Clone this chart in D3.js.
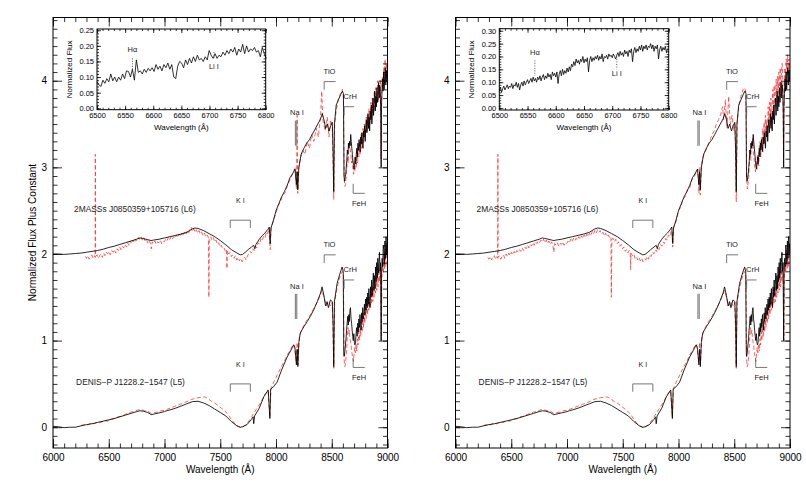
<!DOCTYPE html>
<html>
<head>
<meta charset="utf-8">
<script src="https://cdn.jsdelivr.net/npm/d3@7"></script>
<style>
  body { margin: 0; background: #fff; }
  svg { display: block; }
  text { font-family: "Liberation Sans", Arial, sans-serif; }
</style>
</head>
<body>
<svg id="chart" width="806" height="483"></svg>
<script>
// spectra, [wavelength (A), normalized flux]; plotted with an offset per star

var l6Black = [[6000,0.00],[6050,0.00],[6100,-0.005],[6150,0.0],[6200,0.005],[6250,0.01],[6300,0.02],[6350,0.03],[6400,0.04],
  [6450,0.055],[6500,0.075],[6550,0.09],[6600,0.11],[6650,0.13],[6700,0.15],[6750,0.17],[6780,0.185],[6800,0.18],[6850,0.165],
  [6880,0.155],[6900,0.16],[6950,0.17],[7000,0.185],[7050,0.2],[7100,0.215],[7150,0.23],[7200,0.25],[7250,0.29],[7275,0.30],
  [7300,0.295],[7350,0.27],[7400,0.235],[7450,0.2],[7500,0.155],[7550,0.105],[7600,0.05],[7650,0.01],[7680,-0.01],[7700,-0.005],
  [7725,0.02],[7750,0.05],[7780,0.08],[7800,0.1],[7810,0.06],[7820,0.11],[7850,0.17],[7875,0.21],[7900,0.24],[7925,0.28],
  [7940,0.31],[7948,0.12],[7955,0.30],[7975,0.38],[8000,0.5],[8025,0.58],[8050,0.66],[8075,0.72],[8100,0.79],[8125,0.88],
  [8150,0.93],[8170,0.98],[8183,0.80],[8190,0.95],[8195,0.74],[8205,1.0],[8225,1.15],[8250,1.22],[8275,1.28],[8300,1.32],
  [8325,1.38],[8350,1.44],[8375,1.50],[8400,1.56],[8415,1.62],[8430,1.55],[8445,1.45],[8460,1.50],[8475,1.42],[8490,1.48],
  [8505,1.52],[8512,1.2],[8518,0.72],[8524,1.5],[8540,1.72],[8560,1.78],[8580,1.84],[8595,1.88],[8605,1.85],[8610,0.9],
  [8615,0.84],[8620,0.88],[8625,0.92],[8630,1.0],[8635,1.08],[8640,1.2],[8645,1.15],[8650,1.28],[8655,1.22],[8660,1.3],
  [8665,1.25],[8670,1.38],[8675,1.3],[8680,1.22],[8685,1.15],[8690,1.08],[8695,1.02],[8700,0.98],[8705,1.05],[8710,1.12],
  [8715,1.04],[8720,1.15],[8725,1.22],[8730,1.12],[8735,1.28],[8740,1.2],[8745,1.32],[8750,1.24],[8755,1.18],[8760,1.35],
  [8765,1.27],[8770,1.4],[8775,1.3],[8780,1.22],[8785,1.42],[8790,1.35],[8795,1.48],[8800,1.3],[8805,1.45],[8810,1.55],
  [8815,1.4],[8820,1.5],[8825,1.62],[8830,1.45],[8835,1.58],[8840,1.42],[8845,1.65],[8850,1.55],[8855,1.72],[8860,1.5],
  [8865,1.68],[8870,1.8],[8875,1.6],[8880,1.75],[8885,1.88],[8890,1.65],[8895,1.82],[8900,1.7],[8905,1.92],[8910,1.75],
  [8915,1.85],[8920,1.98],[8925,1.8],[8930,1.95],[8935,1.88],[8940,1.6],[8943,1.0],[8946,1.7],[8950,1.85],[8955,2.02],
  [8960,1.88],[8965,2.1],[8970,1.9],[8975,2.05],[8980,2.15],[8985,1.95],[8990,2.12],[8995,2.0],[9000,2.15]];

var l5Black = [[6000,0.01],[6050,0.005],[6100,-0.005],[6150,0.0],[6200,0.0],[6250,0.015],[6300,0.03],[6350,0.04],[6400,0.055],
  [6450,0.07],[6500,0.085],[6550,0.1],[6600,0.12],[6650,0.14],[6700,0.16],[6750,0.18],[6780,0.19],[6810,0.185],[6850,0.17],
  [6880,0.145],[6900,0.15],[6950,0.165],[7000,0.18],[7020,0.19],[7050,0.2],[7100,0.22],[7150,0.245],[7200,0.27],[7250,0.295],
  [7300,0.30],[7350,0.28],[7400,0.25],[7450,0.21],[7500,0.17],[7550,0.13],[7600,0.065],[7650,0.015],[7680,0.0],[7700,0.005],
  [7740,0.03],[7780,0.09],[7795,0.12],[7800,0.04],[7808,0.13],[7850,0.22],[7890,0.35],[7930,0.43],[7945,0.10],[7952,0.44],
  [7980,0.47],[8010,0.52],[8050,0.66],[8100,0.81],[8130,0.88],[8158,0.95],[8170,0.92],[8183,0.72],[8190,0.90],[8196,0.70],
  [8205,0.98],[8218,1.09],[8250,1.16],[8280,1.22],[8308,1.28],[8340,1.36],[8370,1.45],[8400,1.55],[8413,1.62],[8430,1.52],
  [8445,1.4],[8458,1.45],[8470,1.38],[8488,1.47],[8505,1.45],[8512,1.2],[8518,0.70],[8524,1.45],[8548,1.66],[8570,1.76],
  [8593,1.85],[8603,1.8],[8608,0.85],[8612,0.82],[8618,0.88],[8623,0.95],[8628,1.02],[8633,1.12],[8638,1.2],[8643,1.28],
  [8648,1.18],[8653,1.3],[8658,1.22],[8663,1.35],[8668,1.38],[8673,1.25],[8678,1.2],[8683,1.12],[8688,1.05],[8693,1.0],
  [8698,1.08],[8703,0.98],[8708,0.95],[8713,0.97],[8718,1.08],[8723,1.15],[8728,1.05],[8733,1.2],[8738,1.1],[8743,1.25],
  [8748,1.15],[8753,1.3],[8758,1.2],[8763,1.12],[8768,1.32],[8773,1.22],[8778,1.38],[8783,1.25],[8788,1.3],[8793,1.42],
  [8798,1.3],[8803,1.48],[8808,1.35],[8813,1.5],[8818,1.38],[8823,1.55],[8828,1.42],[8833,1.6],[8838,1.45],[8843,1.38],
  [8848,1.62],[8853,1.5],[8858,1.7],[8863,1.52],[8868,1.65],[8873,1.78],[8878,1.58],[8883,1.75],[8888,1.6],[8893,1.85],
  [8898,1.68],[8903,1.9],[8908,1.72],[8913,1.95],[8918,1.78],[8923,1.9],[8928,2.02],[8933,1.8],[8938,1.9],[8943,1.0],
  [8947,1.78],[8952,1.95],[8957,1.85],[8962,2.1],[8967,2.05],[8972,1.88],[8977,2.15],[8982,1.95],[8987,2.2],[8992,2.0],
  [8997,2.12],[9000,2.05]];

var l6RedLeft = [[6290,-0.03],[6300,-0.05],[6312,-0.02],[6324,-0.06],[6336,-0.03],[6348,-0.01],[6360,-0.05],[6372,-0.02],
  [6378,-0.04],[6380,1.15],[6382,-0.03],[6394,-0.01],[6406,-0.05],[6418,-0.02],[6430,0.0],[6442,-0.04],[6454,0.01],
  [6466,-0.02],[6478,0.02],[6490,0.0],[6502,0.03],[6514,-0.01],[6526,0.04],[6538,0.02],[6550,0.05],[6562,0.01],[6574,0.06],
  [6586,0.04],[6598,0.08],[6610,0.05],[6622,0.09],[6634,0.07],[6646,0.11],[6658,0.08],[6670,0.13],[6682,0.1],[6694,0.15],
  [6706,0.12],[6718,0.16],[6730,0.13],[6742,0.17],[6754,0.15],[6766,0.19],[6778,0.17],[6790,0.2],[6802,0.16],[6814,0.19],
  [6826,0.15],[6838,0.17],[6850,0.13],[6862,0.16],[6874,0.12],[6882,0.06],[6890,0.14],[6902,0.12],[6914,0.15],[6926,0.11],
  [6938,0.14],[6950,0.13],[6962,0.16],[6974,0.12],[6986,0.15],[6998,0.14],[7010,0.17],[7022,0.15],[7034,0.19],[7046,0.16],
  [7058,0.2],[7070,0.17],[7082,0.2],[7094,0.18],[7106,0.22],[7118,0.19],[7130,0.23],[7142,0.2],[7154,0.24],[7166,0.21],
  [7178,0.25],[7190,0.22],[7202,0.26],[7214,0.23],[7226,0.28],[7238,0.31],[7250,0.26],[7262,0.29],[7274,0.25],[7286,0.28],
  [7298,0.24],[7310,0.27],[7322,0.23],[7334,0.25],[7346,0.21],[7358,0.24],[7370,0.2],[7382,0.22],[7394,0.19],[7398,-0.5],
  [7402,0.18],[7414,0.2],[7426,0.16],[7438,0.19],[7450,0.14],[7462,0.16],[7474,0.11],[7486,0.13],[7498,0.08],[7510,0.1],
  [7522,0.06],[7534,0.07],[7546,0.03],[7556,0.05],[7560,-0.17],[7564,0.04],[7576,0.0],[7588,0.02],[7600,-0.03],[7612,-0.01],
  [7624,-0.05],[7636,-0.02],[7648,-0.07],[7660,-0.04],[7672,-0.08],[7684,-0.05],[7696,-0.09],[7708,-0.06],[7720,-0.04],
  [7732,-0.07],[7744,-0.02],[7756,0.0],[7768,0.03],[7780,0.01],[7792,0.06],[7804,0.04],[7816,0.09],[7828,0.07],[7840,0.13],
  [7852,0.11],[7864,0.17],[7876,0.15],[7888,0.2],[7900,0.18],[7912,0.25],[7924,0.23],[7936,0.29],[7948,0.05],[7956,0.3],
  [7980,0.4],[8000,0.47],[8020,0.56],[8040,0.6],[8060,0.68],[8080,0.7],[8100,0.78],[8120,0.84],[8140,0.9],[8160,0.95],
  [8175,1.0],[8183,0.75],[8190,1.6],[8195,0.7],[8205,1.0],[8220,1.1],[8240,1.2],[8260,1.15],[8280,1.3],[8300,1.22],
  [8320,1.38],[8340,1.3],[8360,1.45],[8380,1.35],[8400,1.6],[8410,1.88],[8420,1.55],[8440,1.42],[8460,1.58],[8475,1.35],
  [8490,1.55],[8505,1.45],[8518,0.63],[8526,1.5],[8540,1.65],[8560,1.8],[8580,1.85],[8595,1.9],[8605,1.8],[8612,0.85],
  [8618,0.78],[8624,0.8],[8630,0.9],[8636,1.0],[8642,1.12],[8648,1.05],[8654,1.25],[8660,1.3],[8666,1.2],[8672,1.15],
  [8678,1.05],[8684,1.1],[8690,0.98],[8696,0.92],[8702,1.02],[8708,0.95],[8714,1.1],[8720,1.0],[8726,1.18],[8732,1.05],
  [8738,1.25],[8744,1.12],[8750,1.3],[8756,1.15],[8762,1.38],[8768,1.22],[8774,1.3],[8780,1.45],[8786,1.28],[8792,1.5],
  [8798,1.35],[8804,1.42],[8810,1.58],[8816,1.4],[8822,1.6],[8828,1.45],[8834,1.68],[8840,1.5],[8846,1.62],[8852,1.75],
  [8858,1.55],[8864,1.8],[8870,1.6],[8876,1.72],[8882,1.88],[8888,1.65],[8894,1.92],[8900,1.7],[8906,1.85],[8912,2.0],
  [8918,1.75],[8924,1.95],[8930,1.82],[8936,2.02],[8942,1.1],[8948,1.85],[8954,2.05],[8960,1.9],[8966,2.15],[8972,1.95],
  [8978,2.25],[8984,2.0],[8990,2.2],[8996,2.05],[9000,2.15]];

var l6RedRight = [[6290,-0.04],[6300,-0.06],[6312,-0.03],[6324,-0.07],[6336,-0.04],[6348,-0.02],[6360,-0.06],[6372,-0.03],
  [6378,-0.05],[6380,1.15],[6382,-0.04],[6394,-0.02],[6406,-0.06],[6418,-0.03],[6430,-0.01],[6442,-0.05],[6454,0.0],
  [6466,-0.03],[6478,0.01],[6490,-0.02],[6502,0.02],[6514,-0.01],[6526,0.03],[6538,0.0],[6550,0.04],[6562,0.02],[6574,0.05],
  [6586,0.03],[6598,0.07],[6610,0.04],[6622,0.08],[6634,0.06],[6646,0.1],[6658,0.07],[6670,0.11],[6682,0.09],[6694,0.13],
  [6706,0.1],[6718,0.14],[6730,0.12],[6742,0.15],[6754,0.13],[6766,0.16],[6778,0.14],[6790,0.17],[6802,0.13],[6814,0.16],
  [6826,0.12],[6838,0.15],[6850,0.11],[6862,0.14],[6874,0.1],[6882,0.02],[6890,0.12],[6902,0.1],[6914,0.13],[6926,0.09],
  [6938,0.12],[6950,0.11],[6962,0.14],[6974,0.1],[6986,0.13],[6998,0.12],[7010,0.15],[7022,0.13],[7034,0.17],[7046,0.14],
  [7058,0.18],[7070,0.15],[7082,0.18],[7094,0.16],[7106,0.2],[7118,0.17],[7130,0.21],[7142,0.18],[7154,0.22],[7166,0.19],
  [7178,0.23],[7190,0.2],[7202,0.24],[7214,0.21],[7226,0.26],[7238,0.23],[7250,0.27],[7262,0.24],[7274,0.28],[7286,0.25],
  [7298,0.27],[7310,0.23],[7322,0.25],[7334,0.21],[7346,0.24],[7358,0.2],[7370,0.22],[7382,0.19],[7394,0.2],[7398,-0.5],
  [7402,0.17],[7414,0.18],[7426,0.14],[7438,0.17],[7450,0.12],[7462,0.14],[7474,0.09],[7486,0.11],[7498,0.06],[7510,0.08],
  [7522,0.03],[7534,0.05],[7546,0.01],[7558,0.04],[7568,0.02],[7570,-0.18],[7574,0.01],[7586,-0.02],[7598,0.0],[7610,-0.05],
  [7622,-0.03],[7634,-0.07],[7646,-0.04],[7658,-0.08],[7670,-0.05],[7682,-0.09],[7694,-0.06],[7706,-0.07],[7718,-0.03],
  [7730,-0.06],[7742,-0.01],[7754,-0.03],[7766,0.02],[7778,0.0],[7790,0.05],[7802,0.03],[7814,0.07],[7826,0.05],[7838,0.11],
  [7850,0.09],[7862,0.14],[7874,0.12],[7886,0.18],[7898,0.16],[7910,0.22],[7922,0.2],[7934,0.26],[7942,0.27],[7948,0.08],
  [7956,0.3],[7980,0.38],[8000,0.5],[8020,0.54],[8040,0.63],[8060,0.66],[8080,0.74],[8100,0.76],[8120,0.86],[8140,0.88],
  [8160,0.96],[8175,0.98],[8183,0.7],[8190,1.0],[8195,0.68],[8205,1.02],[8220,1.12],[8240,1.18],[8260,1.25],[8280,1.3],
  [8300,1.38],[8320,1.42],[8340,1.5],[8360,1.55],[8380,1.62],[8395,1.7],[8405,1.55],[8420,1.78],[8435,1.45],[8450,1.82],
  [8465,1.5],[8480,1.6],[8495,1.42],[8508,1.5],[8518,0.6],[8526,1.5],[8540,1.7],[8560,1.82],[8580,1.9],[8595,1.92],
  [8605,1.85],[8612,0.85],[8618,0.75],[8624,0.82],[8630,0.88],[8636,1.05],[8642,1.2],[8648,1.08],[8654,1.3],[8660,1.22],
  [8666,1.35],[8672,1.15],[8678,1.1],[8684,1.0],[8690,0.95],[8696,1.05],[8702,0.98],[8708,1.15],[8714,1.05],[8720,1.02],
  [8726,1.25],[8732,1.3],[8738,1.12],[8744,1.35],[8750,1.2],[8756,1.45],[8762,1.3],[8768,1.52],[8774,1.28],[8780,1.6],
  [8786,1.4],[8792,1.55],[8798,1.35],[8804,1.7],[8810,1.5],[8816,1.75],[8822,1.48],[8828,1.8],[8834,1.55],[8840,1.72],
  [8846,1.9],[8852,1.6],[8858,1.95],[8864,1.7],[8870,1.85],[8876,2.02],[8882,1.75],[8888,2.05],[8894,1.8],[8900,2.1],
  [8906,1.85],[8912,2.15],[8918,1.9],[8924,2.12],[8930,2.2],[8936,1.95],[8942,1.1],[8948,1.9],[8954,2.15],[8960,2.0],
  [8966,2.25],[8972,2.05],[8978,2.3],[8984,2.08],[8990,2.25],[8996,2.1],[9000,2.2]];

var l5Red = [[6250,0.02],[6280,0.03],[6310,0.025],[6340,0.045],[6370,0.04],[6400,0.06],[6430,0.055],[6460,0.075],[6490,0.07],
  [6520,0.095],[6550,0.1],[6580,0.12],[6610,0.125],[6640,0.145],[6670,0.16],[6700,0.175],[6730,0.18],[6760,0.2],[6790,0.205],
  [6820,0.19],[6850,0.185],[6880,0.16],[6910,0.17],[6940,0.175],[6970,0.19],[7000,0.195],[7030,0.21],[7060,0.225],[7090,0.24],
  [7120,0.255],[7150,0.27],[7180,0.285],[7210,0.3],[7240,0.32],[7270,0.33],[7300,0.34],[7330,0.345],[7360,0.35],[7390,0.33],
  [7420,0.3],[7450,0.28],[7480,0.25],[7510,0.22],[7540,0.19],[7570,0.15],[7600,0.09],[7630,0.04],[7660,0.01],[7690,-0.01],
  [7720,0.02],[7750,0.06],[7780,0.12],[7810,0.18],[7840,0.24],[7870,0.3],[7900,0.38],[7930,0.42],[7945,0.12],[7955,0.45],
  [7980,0.52],[8010,0.6],[8040,0.68],[8070,0.75],[8100,0.83],[8130,0.9],[8160,0.96],[8183,0.75],[8190,0.98],[8196,0.72],
  [8210,1.05],[8240,1.15],[8270,1.22],[8300,1.28],[8330,1.35],[8360,1.42],[8390,1.5],[8413,1.58],[8430,1.5],[8450,1.4],
  [8470,1.45],[8490,1.4],[8505,1.44],[8518,0.68],[8526,1.45],[8550,1.62],[8575,1.75],[8595,1.8],[8605,1.75],[8610,0.8],
  [8616,0.7],[8622,0.72],[8628,0.8],[8634,0.9],[8640,1.05],[8646,1.15],[8652,1.08],[8658,1.12],[8664,1.02],[8670,0.98],
  [8676,0.92],[8682,0.85],[8688,0.8],[8694,0.76],[8700,0.85],[8706,0.92],[8712,0.86],[8718,0.95],[8724,0.88],[8730,1.02],
  [8736,0.95],[8742,1.1],[8748,1.0],[8754,1.15],[8760,1.05],[8766,1.22],[8772,1.1],[8778,1.28],[8784,1.15],[8790,1.32],
  [8796,1.2],[8802,1.38],[8808,1.25],[8814,1.42],[8820,1.3],[8826,1.45],[8832,1.35],[8838,1.5],[8844,1.38],[8850,1.55],
  [8856,1.42],[8862,1.6],[8868,1.45],[8874,1.62],[8880,1.5],[8886,1.68],[8892,1.55],[8898,1.72],[8904,1.58],[8910,1.78],
  [8916,1.62],[8922,1.82],[8928,1.68],[8934,1.85],[8940,1.6],[8945,1.0],[8950,1.75],[8956,1.9],[8962,1.78],[8968,1.98],
  [8974,1.82],[8980,2.02],[8986,1.85],[8992,2.05],[9000,1.95]];

var starNames = ['2MASSs J0850359+105716 (L6)', 'DENIS\u2212P J1228.2\u22121547 (L5)'];
var starOffsets = [2, 0];

// insets, flux every 3.5 A (left) and 2 A (right) from 6500 A
var insetLeftFlux = [0.085,0.075,0.07,0.09,0.08,0.095,0.085,0.11,0.088,0.1,0.085,0.1,0.09,0.11,0.095,0.12,0.118,0.1,0.125,
  0.09,0.155,0.115,0.12,0.11,0.125,0.115,0.128,0.12,0.13,0.118,0.14,0.125,0.135,0.12,0.14,0.13,0.145,0.125,0.14,0.1,0.095,
  0.135,0.15,0.145,0.13,0.155,0.14,0.16,0.145,0.165,0.15,0.17,0.155,0.16,0.15,0.165,0.155,0.185,0.17,0.16,0.175,0.16,0.17,
  0.165,0.18,0.17,0.185,0.175,0.19,0.18,0.195,0.17,0.19,0.18,0.205,0.175,0.2,0.18,0.19,0.185,0.195,0.18,0.185,0.165,0.195,
  0.175,0.16];
var insetRightFlux = [0.065,0.08,0.06,0.075,0.085,0.07,0.08,0.09,0.075,0.085,0.08,0.095,0.075,0.09,0.085,0.1,0.08,0.095,0.07,
  0.09,0.1,0.085,0.105,0.09,0.1,0.11,0.095,0.105,0.115,0.1,0.12,0.105,0.115,0.1,0.12,0.11,0.125,0.105,0.12,0.13,0.11,0.125,
  0.115,0.135,0.12,0.13,0.11,0.14,0.125,0.135,0.12,0.14,0.095,0.13,0.145,0.125,0.15,0.13,0.145,0.135,0.155,0.14,0.16,0.145,
  0.17,0.16,0.18,0.165,0.19,0.175,0.185,0.17,0.19,0.18,0.2,0.175,0.19,0.18,0.195,0.14,0.185,0.2,0.18,0.195,0.185,0.2,0.19,
  0.205,0.185,0.2,0.19,0.21,0.18,0.2,0.195,0.205,0.19,0.21,0.2,0.205,0.195,0.21,0.2,0.19,0.205,0.215,0.2,0.22,0.205,0.215,
  0.2,0.225,0.21,0.22,0.2,0.225,0.215,0.23,0.18,0.22,0.235,0.215,0.23,0.22,0.24,0.225,0.245,0.22,0.24,0.23,0.245,0.225,0.24,
  0.235,0.25,0.23,0.245,0.22,0.24,0.23,0.245,0.19,0.225,0.24,0.22,0.235,0.225,0.24,0.215,0.23];

// feature marks: K I range and bracket level per star, Na I doublet
var kI = [[7590, 7770], [2.39, 0.50]];
var naI = [8183, 8195];

var svg = d3.select('#chart');
var font = '"Liberation Sans", Arial, sans-serif';

function frameAxes (g, x, y, o) {
  var xr = x.range(), yr = y.range();
  function style (sel) {
    sel.select('.domain').remove();
    sel.selectAll('line').attr('stroke', '#000').attr('stroke-width', 0.8);
    sel.attr('font-family', font).attr('font-size', o.font);
  }
  g.append('g').attr('transform', 'translate(0,' + yr[0] + ')')
    .call(d3.axisBottom(x).tickValues(o.xMajor).tickSize(-o.big).tickPadding(o.pad).tickFormat(o.fx)).call(style);
  g.append('g').attr('transform', 'translate(0,' + yr[0] + ')')
    .call(d3.axisBottom(x).tickValues(o.xMinor).tickSize(-o.small).tickFormat('')).call(style);
  g.append('g').attr('transform', 'translate(0,' + yr[1] + ')')
    .call(d3.axisTop(x).tickValues(o.xMajor).tickSize(-o.big).tickFormat('')).call(style);
  g.append('g').attr('transform', 'translate(0,' + yr[1] + ')')
    .call(d3.axisTop(x).tickValues(o.xMinor).tickSize(-o.small).tickFormat('')).call(style);
  g.append('g').attr('transform', 'translate(' + xr[0] + ',0)')
    .call(d3.axisLeft(y).tickValues(o.yMajor).tickSize(-o.big).tickPadding(o.pad).tickFormat(o.fy)).call(style);
  g.append('g').attr('transform', 'translate(' + xr[0] + ',0)')
    .call(d3.axisLeft(y).tickValues(o.yMinor).tickSize(-o.small).tickFormat('')).call(style);
  g.append('g').attr('transform', 'translate(' + xr[1] + ',0)')
    .call(d3.axisRight(y).tickValues(o.yMajor).tickSize(-o.big).tickFormat('')).call(style);
  g.append('g').attr('transform', 'translate(' + xr[1] + ',0)')
    .call(d3.axisRight(y).tickValues(o.yMinor).tickSize(-o.small).tickFormat('')).call(style);
  g.append('rect').attr('x', xr[0]).attr('y', yr[1]).attr('width', xr[1] - xr[0]).attr('height', yr[0] - yr[1])
    .attr('fill', 'none').attr('stroke', '#000').attr('stroke-width', 1);
}

function label (g, txt, x, y, size, anchor) {
  return g.append('text').attr('x', x).attr('y', y).attr('font-size', size).attr('text-anchor', anchor || 'middle')
    .attr('fill', '#222').text(txt);
}

function drawPanel (id, left, l6Red, insetFlux, insetStep, insetBox, insetY) {
  var g = svg.append('g');
  var x = d3.scaleLinear().domain([6000, 9000]).range([left, left + 334.5]);
  var y = d3.scaleLinear().domain([-0.24, 4.73]).range([448, 17.5]);

  g.append('clipPath').attr('id', 'clip' + id).append('rect')
    .attr('x', left).attr('y', 17.5).attr('width', 334.5).attr('height', 430.5);

  var line = function (off) {
    return d3.line().x(function (d) { return x(d[0]) }).y(function (d) { return y(d[1] + off) });
  };
  var plot = g.append('g').attr('clip-path', 'url(#clip' + id + ')');
  var series = [[l6Black, l6Red, starOffsets[0]], [l5Black, l5Red, starOffsets[1]]];
  // red comparison spectra first, observed (black) on top
  series.forEach(function (s) {
    plot.append('path').datum(s[1]).attr('d', line(s[2])).attr('fill', 'none')
      .attr('stroke', '#ff2a2a').attr('stroke-width', 0.75).attr('stroke-dasharray', '4,2.5');
  });
  series.forEach(function (s) {
    plot.append('path').datum(s[0]).attr('d', line(s[2])).attr('fill', 'none')
      .attr('stroke', '#000').attr('stroke-width', 0.85);
  });

  frameAxes(g, x, y, {
    xMajor: d3.range(6000, 9001, 500), xMinor: d3.range(6000, 9001, 100),
    yMajor: [0, 1, 2, 3, 4], yMinor: d3.range(-2, 48).map(function (v) { return v / 10 }),
    big: 9, small: 4.5, pad: 6, font: 10, fx: d3.format('d'), fy: d3.format('d')
  });

  g.append('text').attr('x', (x.range()[0] + x.range()[1]) / 2).attr('y', 473).attr('text-anchor', 'middle')
    .attr('font-size', 10).text('Wavelength (\u00c5)');

  // feature annotations
  var ann = g.append('g').attr('stroke', '#555').attr('stroke-width', 0.8).attr('fill', 'none');
  starOffsets.forEach(function (off, i) {
    var ky = kI[1][i];
    ann.append('path').attr('d', 'M' + x(kI[0][0]) + ',' + y(ky - 0.09) + 'V' + y(ky) + 'H' + x(kI[0][1]) + 'V' + y(ky - 0.09));
    label(g, 'K I', x(7680), y(ky + 0.2), 7);
    naI.forEach(function (w) {
      ann.append('line').attr('x1', x(w) - 1).attr('x2', x(w) - 1).attr('y1', y(off + 1.25)).attr('y2', y(off + 1.54))
        .attr('stroke', '#888').attr('stroke-width', 1.2);
    });
    label(g, 'Na I', x(8188), y(off + 1.6), 7.5);
    ann.append('path').attr('d', 'M' + x(8432) + ',' + y(off + 1.895) + 'V' + y(off + 1.99) + 'H' + x(8535));
    label(g, 'TiO', x(8480), y(off + 2.08), 7.5);
    ann.append('path').attr('d', 'M' + x(8611) + ',' + y(off + 1.6) + 'V' + y(off + 1.70) + 'H' + x(8700));
    label(g, 'CrH', x(8666), y(off + 1.79), 7.5);
    var fy = [2.70, 0.69][i];
    ann.append('path').attr('d', 'M' + x(8692) + ',' + y(fy + 0.11) + 'V' + y(fy) + 'H' + x(8796));
    label(g, 'FeH', x(8745), y(fy - 0.15), 7.5);
  });
  label(g, starNames[0], x(6189), y(2.49), 8.4, 'start');
  label(g, starNames[1], x(6207), y(0.49), 8.4, 'start');

  // inset
  var ix = d3.scaleLinear().domain([6500, 6800]).range([insetBox[0], insetBox[1]]);
  var iy = d3.scaleLinear().domain(insetY).range([insetBox[3], insetBox[2]]);
  g.append('rect').attr('x', insetBox[0]).attr('y', insetBox[2]).attr('width', insetBox[1] - insetBox[0])
    .attr('height', insetBox[3] - insetBox[2]).attr('fill', '#fff');
  g.append('path').datum(insetFlux)
    .attr('d', d3.line().x(function (d, i) { return ix(6500 + i * insetStep) }).y(function (d) { return iy(d) }))
    .attr('fill', 'none').attr('stroke', '#000').attr('stroke-width', 0.8);
  var yTop = insetY[1] > 0.28 ? 0.30 : 0.25;
  frameAxes(g, ix, iy, {
    xMajor: d3.range(6500, 6801, 50), xMinor: d3.range(6500, 6801, 10),
    yMajor: d3.range(0, Math.round(yTop * 100) + 1, 5).map(function (v) { return v / 100 }),
    yMinor: d3.range(0, Math.round(yTop * 100) + 1, 1).map(function (v) { return v / 100 }),
    big: 4, small: 2, pad: 3, font: 7.5, fx: d3.format('d'), fy: d3.format('.2f')
  });
  g.append('text').attr('x', (insetBox[0] + insetBox[1]) / 2).attr('y', 130).attr('text-anchor', 'middle')
    .attr('font-size', 8).text('Wavelength (\u00c5)');
  g.append('text').attr('transform', 'translate(' + (insetBox[0] - 25) + ',' + ((insetBox[2] + insetBox[3]) / 2) + ') rotate(-90)')
    .attr('text-anchor', 'middle').attr('font-size', 8).text('Normalized Flux');

  // H alpha and Li I marks
  var dots = g.append('g').attr('stroke', '#444').attr('stroke-width', 0.9).attr('stroke-dasharray', '1,1.5');
  var hy = id === 'L' ? [0.16, 0.115, 0.18] : [0.185, 0.125, 0.205];
  var ly = id === 'L' ? [0.18, 0.16, 0.125] : [0.20, 0.15, 0.125];
  dots.append('line').attr('x1', ix(6563)).attr('x2', ix(6563)).attr('y1', iy(hy[0])).attr('y2', iy(hy[1]));
  label(g, 'H\u03b1', ix(6563), iy(hy[2]), 7.5);
  dots.append('line').attr('x1', ix(6708)).attr('x2', ix(6708)).attr('y1', iy(ly[0])).attr('y2', iy(ly[1]));
  label(g, 'Li I', ix(6708), iy(ly[2]), 7.5);
}

drawPanel('L', 53, l6RedLeft, insetLeftFlux, 3.5, [97, 265.7, 29, 109.7], [-0.0045, 0.254]);
drawPanel('R', 455.5, l6RedRight, insetRightFlux, 2, [499.3, 668.7, 28.7, 110], [-0.008, 0.308]);

svg.append('text').attr('transform', 'translate(36,232.5) rotate(-90)').attr('text-anchor', 'middle')
  .attr('font-size', 10).text('Normalized Flux Plus Constant');
</script>
</body>
</html>
